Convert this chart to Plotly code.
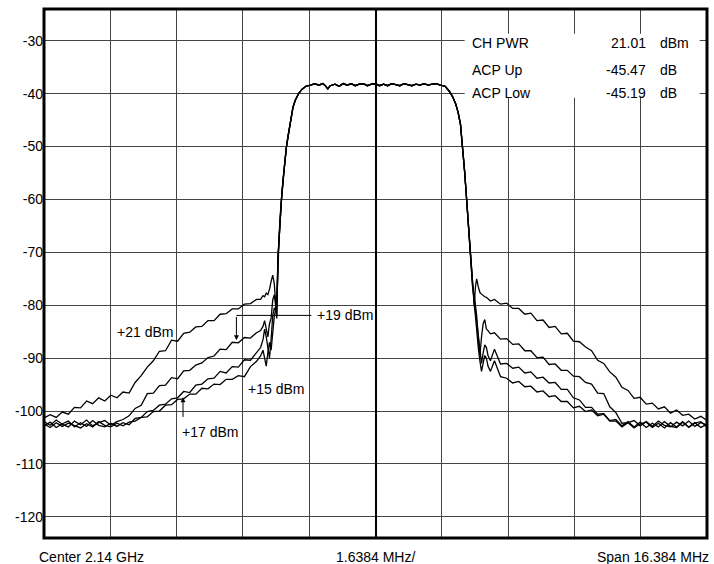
import plotly.graph_objects as go

# ---------------- data (MHz offset from 2.14 GHz centre, dBm) ----------------
left_f = [-8.19, -8.04, -7.89, -7.74, -7.59, -7.44, -7.29, -7.14, -6.99, -6.84,
          -6.69, -6.54, -6.39, -6.24, -6.09, -5.94, -5.79, -5.64, -5.49, -5.34,
          -5.19, -5.04, -4.89, -4.74, -4.59, -4.44, -4.29, -4.14, -3.99, -3.84,
          -3.69, -3.54, -3.39, -3.24, -3.09, -2.94, -2.84, -2.78, -2.74, -2.70,
          -2.66, -2.62, -2.58, -2.54, -2.50, -2.47, -2.44]

right_f = [2.44, 2.47, 2.50, 2.54, 2.58, 2.62, 2.66, 2.70, 2.74, 2.78,
           2.84, 2.94, 3.09, 3.24, 3.39, 3.54, 3.69, 3.84, 3.99, 4.14,
           4.29, 4.44, 4.59, 4.74, 4.89, 5.04, 5.19, 5.34, 5.49, 5.64,
           5.79, 5.94, 6.09, 6.24, 6.39, 6.54, 6.69, 6.84, 6.99, 7.14,
           7.29, 7.44, 7.59, 7.74, 7.89, 8.04, 8.19]

chan_f = [-2.41, -2.38, -2.35, -2.32, -2.28, -2.24, -2.20, -2.15, -2.10, -2.04,
          -1.98, -1.90, -1.82, -1.72,
          -1.60, -1.50, -1.40, -1.30, -1.24, -1.18, -1.12, -1.00, -0.90, -0.80,
          -0.70, -0.60, -0.50, -0.40, -0.30, -0.20, -0.10, 0.00, 0.10, 0.20,
          0.30, 0.40, 0.50, 0.60, 0.70, 0.80, 0.90, 1.00, 1.10, 1.20,
          1.30, 1.40, 1.50, 1.60,
          1.72, 1.82, 1.90, 1.98, 2.04, 2.10, 2.15, 2.20, 2.24, 2.28,
          2.32, 2.36, 2.40]

chan_db = [-71.0, -66.5, -62.5, -59.5, -56.0, -52.8, -50.0, -47.5, -45.2, -42.6,
           -41.2, -40.0, -39.2, -38.6,
           -38.4, -38.1, -38.4, -38.1, -38.5, -39.1, -38.5, -38.2, -38.6, -38.1,
           -38.4, -38.1, -38.5, -38.2, -38.1, -38.5, -38.2, -38.1, -38.5, -38.2,
           -38.5, -38.1, -38.3, -38.5, -38.1, -38.3, -38.5, -38.2, -38.4, -38.1,
           -38.4, -38.2, -38.1, -38.4,
           -38.6, -39.5, -40.5, -41.9, -43.5, -45.8, -49.5, -54.5, -58.7, -63.0,
           -67.8, -72.5, -76.5]

# lower skirts
l21 = [-101.3, -100.7, -101.2, -100.2, -100.6, -99.3, -99.4, -98.1, -98.6, -97.5,
       -98.1, -97.0, -97.5, -96.4, -96.6, -94.6, -93.3, -91.7, -90.5, -88.7,
       -88.6, -86.6, -86.8, -85.3, -85.1, -84.1, -84.0, -82.9, -82.9, -81.7,
       -81.6, -80.7, -80.7, -79.8, -79.7, -78.9, -78.9, -78.2, -78.4, -77.7,
       -78.0, -77.0, -75.5, -74.3, -76.0, -79.5, -82.5]
l19 = [-102.0, -102.7, -101.7, -102.5, -103.0, -101.9, -102.6, -101.7, -102.8, -102.2,
       -101.8, -102.7, -102.0, -101.6, -100.9, -99.5, -98.9, -96.7, -96.6, -95.2,
       -95.1, -93.7, -93.9, -92.4, -92.3, -91.3, -90.9, -89.9, -89.6, -88.3,
       -88.4, -87.0, -87.1, -86.1, -86.2, -85.2, -84.8, -84.0, -82.9, -84.5,
       -86.0, -83.5, -82.5, -79.0, -78.0, -80.0, -82.0]
l17 = [-102.8, -102.1, -103.1, -102.4, -101.9, -103.0, -102.2, -102.9, -101.8, -102.7,
       -103.0, -102.3, -102.9, -102.2, -102.6, -101.4, -101.2, -100.1, -99.9, -98.9,
       -98.7, -97.7, -97.5, -96.3, -96.5, -95.1, -94.9, -93.9, -93.8, -92.5,
       -92.8, -91.6, -91.7, -90.3, -90.4, -88.9, -88.0, -86.5, -84.5, -86.0,
       -88.5, -90.0, -86.5, -82.0, -80.5, -81.0, -80.0]
l15 = [-102.4, -103.1, -102.2, -102.9, -102.3, -102.7, -103.2, -102.4, -103.0, -102.0,
       -102.7, -103.0, -102.3, -102.8, -102.1, -101.9, -101.2, -101.1, -100.1, -100.0,
       -98.9, -98.8, -97.8, -97.7, -96.8, -96.8, -95.7, -95.8, -94.9, -95.0,
       -94.0, -94.0, -93.3, -93.5, -91.6, -90.6, -89.6, -88.5, -89.8, -91.5,
       -89.0, -87.0, -88.5, -85.0, -82.0, -81.0, -79.0]

# upper skirts
r21 = [-80.0, -76.5, -75.0, -76.5, -77.6, -77.9, -78.2, -78.4, -78.5, -78.8,
       -79.2, -78.9, -79.8, -79.6, -80.6, -80.6, -81.7, -81.5, -82.9, -82.8,
       -84.2, -84.0, -85.4, -85.3, -86.8, -86.9, -87.9, -88.6, -90.4, -91.0,
       -92.6, -93.6, -95.5, -96.1, -97.6, -97.4, -98.7, -98.5, -99.6, -99.2,
       -100.4, -99.8, -100.8, -100.6, -101.5, -101.0, -101.8]
r19 = [-78.0, -80.0, -82.0, -86.0, -89.5, -86.0, -83.5, -82.7, -84.5, -84.8,
       -85.4, -85.2, -86.4, -86.3, -87.4, -87.3, -88.6, -88.6, -89.9, -89.8,
       -91.2, -91.1, -92.3, -92.3, -93.4, -93.5, -94.6, -94.9, -96.6, -96.7,
       -99.2, -100.3, -102.3, -102.2, -101.8, -102.8, -102.0, -102.9, -101.9, -102.7,
       -103.0, -102.1, -102.8, -101.9, -102.9, -102.2, -102.6]
r17 = [-79.0, -81.0, -83.0, -86.5, -88.5, -91.0, -89.0, -87.5, -88.0, -89.5,
       -90.5, -88.3, -91.1, -91.0, -91.9, -91.7, -92.8, -92.6, -93.8, -93.6,
       -94.7, -94.6, -95.9, -95.9, -97.5, -97.9, -99.3, -99.3, -100.6, -100.5,
       -101.8, -101.6, -102.8, -102.0, -103.0, -102.1, -103.1, -102.3, -103.0, -102.0,
       -102.9, -103.1, -102.1, -103.0, -102.2, -103.1, -102.5]
r15 = [-80.0, -82.0, -85.0, -88.0, -90.5, -92.5, -91.0, -89.5, -90.0, -91.5,
       -92.5, -90.5, -93.5, -93.8, -94.7, -94.4, -95.4, -95.3, -96.4, -96.2,
       -97.3, -97.1, -98.2, -98.2, -99.4, -99.1, -100.1, -99.8, -100.9, -100.6,
       -101.9, -101.9, -103.0, -102.2, -103.2, -102.4, -102.1, -103.1, -102.3, -103.2,
       -102.2, -103.0, -102.0, -103.1, -102.3, -102.0, -103.0]

trace_names = ["+21 dBm", "+19 dBm", "+17 dBm", "+15 dBm"]
lower = [l21, l19, l17, l15]
upper = [r21, r19, r17, r15]

y_ticks = [-30, -40, -50, -60, -70, -80, -90, -100, -110, -120]
table_rows = ["CH PWR", "ACP Up", "ACP Low"]
table_vals = ["21.01", "-45.47", "-45.19"]
table_units = ["dBm", "dB", "dB"]

# ---------------- figure ----------------
FONT = "Liberation Sans, Arial, Helvetica, sans-serif"
L, R, T, B = 44, 7, 9, 26
W, H = 714, 564
PW, PH = W - L - R, H - T - B

fig = go.Figure()

xs = left_f + chan_f + right_f
for name, lo, up in zip(trace_names, lower, upper):
    fig.add_trace(go.Scatter(x=xs, y=lo + chan_db + up, mode="lines", name=name,
                             line=dict(color="black", width=1.3), hoverinfo="skip"))

fig.update_layout(
    width=W, height=H,
    margin=dict(l=L, r=R, t=T, b=B, autoexpand=False),
    paper_bgcolor="white", plot_bgcolor="white",
    showlegend=False,
    font=dict(family=FONT, size=14, color="black"),
)
fig.update_xaxes(range=[-8.192, 8.192], tick0=0, dtick=1.6384, showticklabels=False,
                 showgrid=True, gridcolor="#444444", gridwidth=1,
                 zeroline=True, zerolinecolor="black", zerolinewidth=2,
                 showline=False, ticks="", automargin=False)
fig.update_yaxes(range=[-124, -24], tickvals=y_ticks, ticktext=[str(v) for v in y_ticks],
                 showgrid=True, gridcolor="#444444", gridwidth=1, zeroline=False,
                 showline=False, ticks="", automargin=False,
                 tickfont=dict(family=FONT, size=14, color="black"))

# white box behind the measurement table (hides grid)
fig.add_shape(type="rect", xref="x", yref="y", x0=2.204, x1=8.01, y0=-40.8, y1=-28.7,
              fillcolor="white", line=dict(width=0), layer="between")
# frame
fig.add_shape(type="rect", xref="paper", yref="paper", x0=0, x1=1, y0=0, y1=1,
              line=dict(color="black", width=3), layer="above")

# measurement table
row_y = [-30.45, -35.45, -39.8]
for lab, val, unit, yy in zip(table_rows, table_vals, table_units, row_y):
    fig.add_annotation(x=2.33, y=yy, xref="x", yref="y", text=lab, showarrow=False,
                       xanchor="left", yanchor="middle", font=dict(size=14))
    fig.add_annotation(x=6.735, y=yy, xref="x", yref="y", text=val, showarrow=False,
                       xanchor="right", yanchor="middle", font=dict(size=14))
    fig.add_annotation(x=6.98, y=yy, xref="x", yref="y", text=unit, showarrow=False,
                       xanchor="left", yanchor="middle", font=dict(size=14))

# trace labels
fig.add_annotation(x=-6.445, y=-85.1, text="+21 dBm", showarrow=False,
                   xanchor="left", yanchor="middle")
fig.add_annotation(x=-1.50, y=-81.9, text="+19 dBm", showarrow=False,
                   xanchor="left", yanchor="middle")
fig.add_annotation(x=-4.84, y=-103.9, text="+17 dBm", showarrow=False,
                   xanchor="left", yanchor="middle")
fig.add_annotation(x=-3.19, y=-95.75, text="+15 dBm", showarrow=False,
                   xanchor="left", yanchor="middle")
# +19 leader
fig.add_shape(type="line", x0=-3.437, x1=-1.584, y0=-81.92, y1=-81.92,
              line=dict(color="black", width=1))
fig.add_annotation(x=-3.437, y=-86.6, ax=-3.437, ay=-81.92, axref="x", ayref="y",
                   text="", showarrow=True, arrowhead=2, arrowsize=1, arrowwidth=1,
                   arrowcolor="black", standoff=0)
# +17 arrow
fig.add_annotation(x=-4.757, y=-97.4, ax=-4.757, ay=-101.4, axref="x", ayref="y",
                   text="", showarrow=True, arrowhead=2, arrowsize=1, arrowwidth=1,
                   arrowcolor="black", standoff=0)

# bottom labels (positions given in page pixels, converted to paper units)
def px(xp):
    return (xp - L) / PW

def py(yp):
    return (T + PH - yp) / PH

fig.add_annotation(x=px(37), y=py(557), xref="paper", yref="paper",
                   text="Center 2.14 GHz", showarrow=False, xanchor="left", yanchor="middle")
fig.add_annotation(x=px(375), y=py(557), xref="paper", yref="paper",
                   text="1.6384 MHz/", showarrow=False, xanchor="center", yanchor="middle")
fig.add_annotation(x=px(711), y=py(557), xref="paper", yref="paper",
                   text="Span 16.384 MHz", showarrow=False, xanchor="right", yanchor="middle")

# remove the default 8 px page margin so the figure sits at the window origin
fig.write_html("out.html",
               config={"displayModeBar": False},
               post_script="document.body.style.margin='0';"
                           "document.body.style.overflow='hidden';")
